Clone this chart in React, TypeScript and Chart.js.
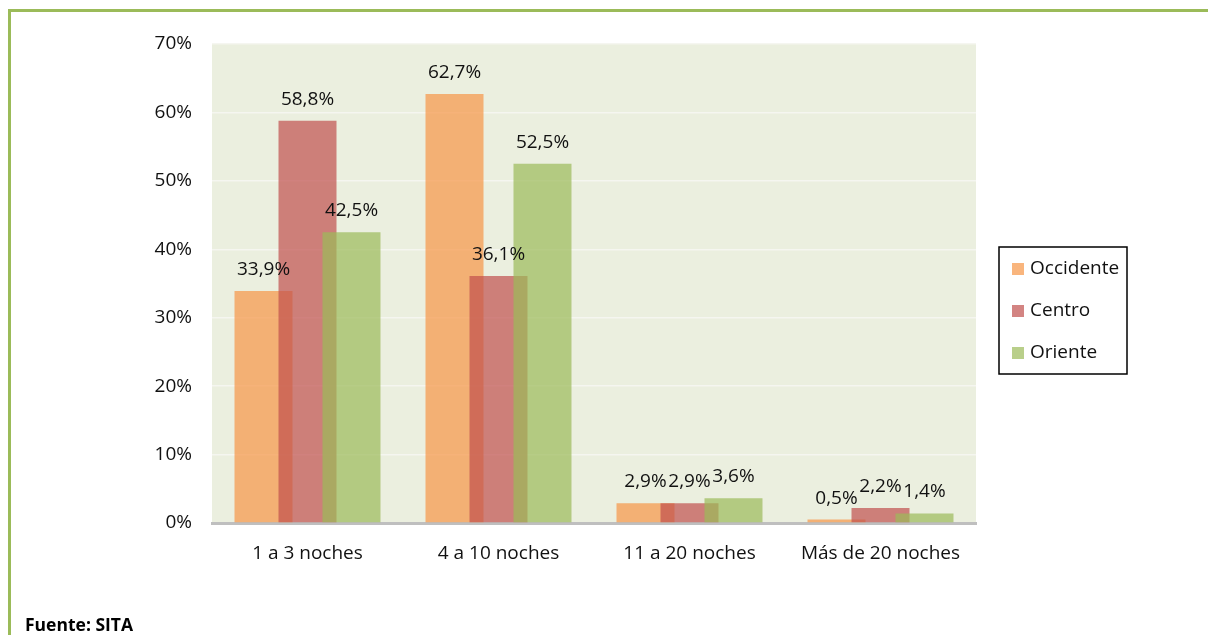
import React, { useEffect, useRef } from "react";
import { Chart, registerables } from "chart.js";

Chart.register(...registerables);

const categories = ["1 a 3 noches", "4 a 10 noches", "11 a 20 noches", "Más de 20 noches"];
const seriesNames = ["Occidente", "Centro", "Oriente"];
const occidente = [33.9, 62.7, 2.9, 0.5];
const centro = [58.8, 36.1, 2.9, 2.2];
const oriente = [42.5, 52.5, 3.6, 1.4];
const yMax = 70;
const yStep = 10;
const sourceText = "Fuente: SITA";

const seriesColors = ["rgba(247,150,70,0.7)", "rgba(192,80,77,0.7)", "rgba(155,187,89,0.7)"];
const FONT = '"Open Sans", "DejaVu Sans", sans-serif';

const fmt = (v: number) => v.toFixed(1).replace(".", ",") + "%";

const bgPlugin = {
  id: "plotBg",
  beforeDraw(chart: any) {
    const { ctx, chartArea } = chart;
    ctx.save();
    ctx.fillStyle = "#EBEFDF";
    ctx.fillRect(chartArea.left, chartArea.top, chartArea.right - chartArea.left, chartArea.bottom - chartArea.top);
    ctx.restore();
  },
};

// Draw datasets in index order (later series on top), then the value labels.
const drawPlugin = {
  id: "orderedBarsAndLabels",
  beforeDatasetsDraw(chart: any) {
    const { ctx } = chart;
    chart.data.datasets.forEach((_: any, di: number) => {
      const meta = chart.getDatasetMeta(di);
      if (meta && meta.controller) meta.controller.draw();
    });
    ctx.save();
    ctx.font = `19px ${FONT}`;
    ctx.fillStyle = "#111";
    ctx.textAlign = "center";
    ctx.textBaseline = "alphabetic";
    chart.data.datasets.forEach((ds: any, di: number) => {
      const meta = chart.getDatasetMeta(di);
      meta.data.forEach((el: any, i: number) => {
        ctx.fillText(fmt(ds.data[i]), el.x, el.y - 16);
      });
    });
    ctx.restore();
    return false;
  },
};

const legendPlugin = {
  id: "boxLegend",
  afterDraw(chart: any) {
    const { ctx, chartArea } = chart;
    const bx = chartArea.right + 23;
    const by = 247;
    ctx.save();
    ctx.fillStyle = "#fff";
    ctx.fillRect(bx, by, 128, 127);
    ctx.strokeStyle = "#000";
    ctx.lineWidth = 1.5;
    ctx.strokeRect(bx, by, 128, 127);
    ctx.font = `19px ${FONT}`;
    ctx.textBaseline = "middle";
    ctx.textAlign = "left";
    seriesNames.forEach((name, i) => {
      const cy = by + 22 + i * 42;
      ctx.fillStyle = seriesColors[i];
      ctx.fillRect(bx + 13, cy - 6, 12, 12);
      ctx.fillStyle = "#111";
      ctx.fillText(name, bx + 31, cy);
    });
    ctx.restore();
  },
};

export default function App() {
  const canvasRef = useRef<HTMLCanvasElement | null>(null);

  useEffect(() => {
    if (!canvasRef.current) return;
    const seriesData = [occidente, centro, oriente];
    const chart = new Chart(canvasRef.current, {
      type: "bar",
      data: {
        labels: categories,
        datasets: seriesNames.map((name, i) => ({
          label: name,
          data: seriesData[i],
          backgroundColor: seriesColors[i],
          borderWidth: 0,
          categoryPercentage: 0.691,
          barPercentage: 1.318,
        })),
      },
      options: {
        responsive: false,
        animation: false,
        layout: { padding: { left: 0, top: 44, right: 232, bottom: 0 } },
        plugins: {
          legend: { display: false },
          tooltip: { enabled: false },
        },
        scales: {
          x: {
            grid: { display: false, drawTicks: false },
            border: { display: true, color: "#BFBFBF", width: 3 },
            ticks: { font: { family: FONT, size: 19 }, color: "#111", padding: 19 },
            afterFit(scale: any) {
              scale.height = 112;
            },
          },
          y: {
            min: 0,
            max: yMax,
            grid: { color: "#F5F6F0", lineWidth: 1.5, drawTicks: false },
            border: { display: false },
            ticks: {
              stepSize: yStep,
              font: { family: FONT, size: 19 },
              color: "#111",
              padding: 20,
              callback: (v: any) => `${v}%`,
            },
            afterFit(scale: any) {
              scale.width = 212;
            },
          },
        },
      },
      plugins: [bgPlugin, drawPlugin, legendPlugin],
    } as any);
    if ((document as any).fonts && (document as any).fonts.load) {
      (document as any).fonts.load(`19px "Open Sans"`).then(() => chart.update()).catch(() => {});
    }
    return () => chart.destroy();
  }, []);

  return (
    <div style={{ position: "fixed", left: 0, top: 0, width: 1208, height: 635, background: "#fff", overflow: "hidden" }}>
      <canvas ref={canvasRef} width={1208} height={635} style={{ position: "absolute", left: 0, top: 0 }} />
      <div style={{ position: "absolute", left: 8, top: 9, width: 1200, height: 3, background: "#9BBB59" }} />
      <div style={{ position: "absolute", left: 8, top: 9, width: 3, height: 626, background: "#9BBB59" }} />
      <div
        style={{
          position: "absolute",
          left: 25,
          top: 612,
          fontFamily: FONT,
          fontWeight: 700,
          fontSize: 17.5,
          color: "#000",
          whiteSpace: "nowrap",
        }}
      >
        {sourceText}
      </div>
    </div>
  );
}
